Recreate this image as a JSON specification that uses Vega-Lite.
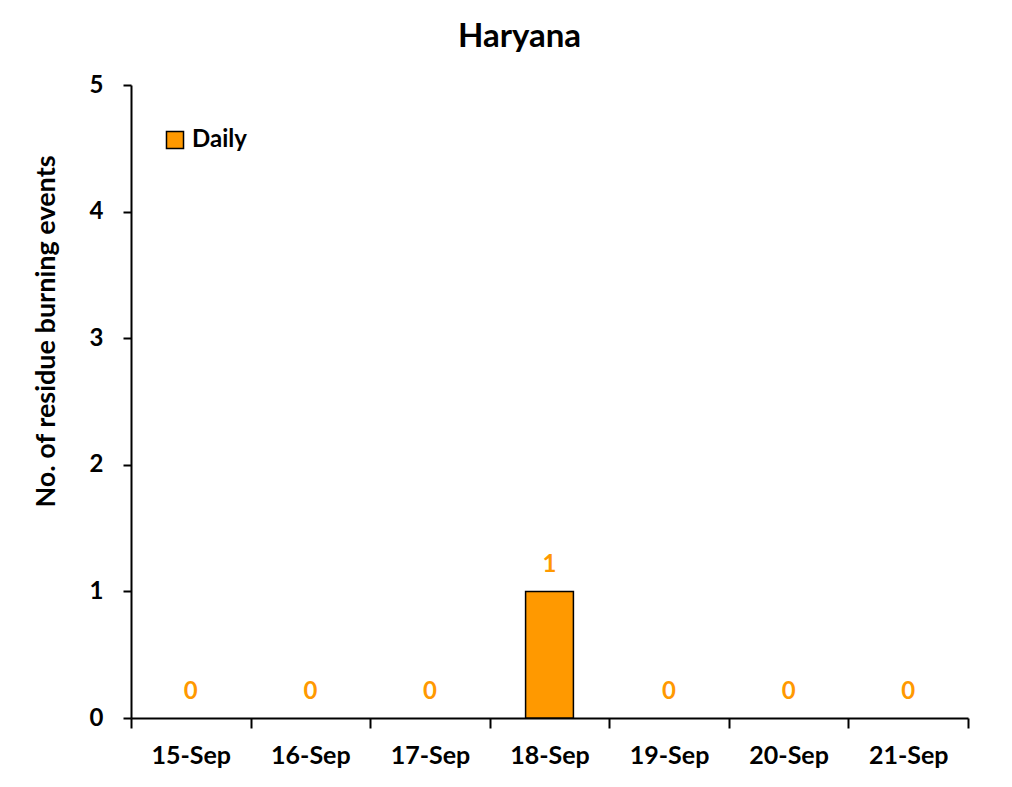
{
  "$schema": "https://vega.github.io/schema/vega-lite/v6.json",
  "width": 837,
  "height": 633,
  "autosize": {"type": "none"},
  "padding": {"left": 131, "top": 85, "right": 44, "bottom": 69},
  "background": "white",
  "config": {
    "font": "Lato",
    "view": {"stroke": null}
  },
  "title": {
    "text": "Haryana",
    "fontSize": 33,
    "fontWeight": "bold",
    "font": "Lato",
    "color": "black",
    "anchor": "middle",
    "dx": -30,
    "offset": 19
  },
  "data": {
    "values": [
      {"date": "15-Sep", "count": 0, "series": "Daily"},
      {"date": "16-Sep", "count": 0, "series": "Daily"},
      {"date": "17-Sep", "count": 0, "series": "Daily"},
      {"date": "18-Sep", "count": 1, "series": "Daily"},
      {"date": "19-Sep", "count": 0, "series": "Daily"},
      {"date": "20-Sep", "count": 0, "series": "Daily"},
      {"date": "21-Sep", "count": 0, "series": "Daily"}
    ]
  },
  "encoding": {
    "x": {
      "field": "date",
      "type": "ordinal",
      "sort": ["15-Sep", "16-Sep", "17-Sep", "18-Sep", "19-Sep", "20-Sep", "21-Sep"],
      "scale": {"domain": ["15-Sep", "16-Sep", "17-Sep", "18-Sep", "19-Sep", "20-Sep", "21-Sep"], "paddingInner": 0, "paddingOuter": 0},
      "axis": {
        "title": null,
        "labelAngle": 0,
        "labelFontSize": 25,
        "labelFontWeight": "bold",
        "labelColor": "black",
        "labelPadding": 15,
        "tickBand": "extent",
        "tickSize": 10,
        "tickWidth": 2,
        "tickColor": "black",
        "domainColor": "black",
        "domainWidth": 2
      }
    },
    "y": {
      "field": "count",
      "type": "quantitative",
      "scale": {"domain": [0, 5]},
      "axis": {
        "title": "No. of residue burning events",
        "titleFontSize": 27,
        "titleFontWeight": "bold",
        "titleColor": "black",
        "titlePadding": 29,
        "titleY": 246,
        "values": [0, 1, 2, 3, 4, 5],
        "format": "d",
        "grid": false,
        "labelFontSize": 24,
        "labelFontWeight": "bold",
        "labelColor": "black",
        "labelPadding": 20,
        "tickSize": 8,
        "tickWidth": 2,
        "tickColor": "black",
        "domainColor": "black",
        "domainWidth": 2
      }
    }
  },
  "layer": [
    {
      "transform": [{"filter": "datum.count > 0"}],
      "mark": {"type": "bar", "width": {"band": 0.4}, "stroke": "black", "strokeWidth": 1.5},
      "encoding": {
        "color": {
          "field": "series",
          "type": "nominal",
          "scale": {"range": ["#FF9900"]},
          "legend": {
            "title": null,
            "orient": "none",
            "legendX": 32,
            "legendY": 43,
            "symbolType": "square",
            "symbolSize": 290,
            "symbolStrokeColor": "black",
            "symbolStrokeWidth": 1.5,
            "symbolOpacity": 1,
            "labelFontSize": 24,
            "labelFontWeight": "bold",
            "labelColor": "black",
            "labelOffset": 5
          }
        }
      }
    },
    {
      "mark": {"type": "text", "baseline": "alphabetic", "dy": -19, "fontSize": 24, "fontWeight": "bold", "color": "#FF9900"},
      "encoding": {
        "text": {"field": "count", "type": "quantitative"}
      }
    }
  ]
}
